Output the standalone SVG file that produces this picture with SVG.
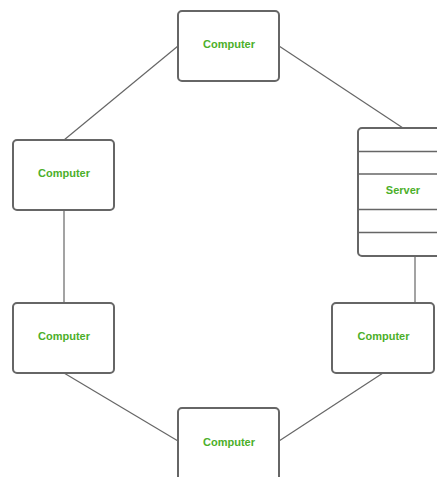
<svg xmlns="http://www.w3.org/2000/svg" width="437" height="477" viewBox="0 0 437 477">
  <style>
    .box { fill: #ffffff; stroke: #666666; stroke-width: 2; }
    .sep { stroke: #666666; stroke-width: 1.5; fill: none; }
    .link { stroke: #666666; stroke-width: 1.2; fill: none; }
    .label { font-family: "Liberation Sans", Arial, sans-serif; font-size: 11px; font-weight: bold; fill: #4caf2a; text-anchor: middle; dominant-baseline: central; }
  </style>
  <rect width="437" height="477" fill="#ffffff"/>
  <g id="connectors">
    <line class="link" x1="178" y1="46" x2="64" y2="140"/>
    <line class="link" x1="279" y1="46" x2="403" y2="128"/>
    <line class="link" x1="64" y1="210" x2="64" y2="303"/>
    <line class="link" x1="415" y1="256" x2="415" y2="303"/>
    <line class="link" x1="64" y1="373" x2="178" y2="441"/>
    <line class="link" x1="383" y1="373" x2="279" y2="441"/>
  </g>
  <g id="computer-top">
    <rect class="box" x="178" y="11" width="101" height="70" rx="4"/>
    <text class="label" x="229" y="44">Computer</text>
  </g>
  <g id="computer-left">
    <rect class="box" x="13" y="140" width="101" height="70" rx="4"/>
    <text class="label" x="64" y="173">Computer</text>
  </g>
  <g id="server">
    <rect class="box" x="358" y="128" width="90" height="128" rx="4"/>
    <line class="sep" x1="358" y1="151.5" x2="437" y2="151.5"/>
    <line class="sep" x1="358" y1="174" x2="437" y2="174"/>
    <line class="sep" x1="358" y1="209.5" x2="437" y2="209.5"/>
    <line class="sep" x1="358" y1="232.5" x2="437" y2="232.5"/>
    <text class="label" x="403" y="190">Server</text>
  </g>
  <g id="computer-lower-left">
    <rect class="box" x="13" y="303" width="101" height="70" rx="4"/>
    <text class="label" x="64" y="336">Computer</text>
  </g>
  <g id="computer-lower-right">
    <rect class="box" x="332" y="303" width="102" height="70" rx="4"/>
    <text class="label" x="383.5" y="336">Computer</text>
  </g>
  <g id="computer-bottom">
    <rect class="box" x="178" y="408" width="101" height="80" rx="4"/>
    <text class="label" x="229" y="442">Computer</text>
  </g>
</svg>
